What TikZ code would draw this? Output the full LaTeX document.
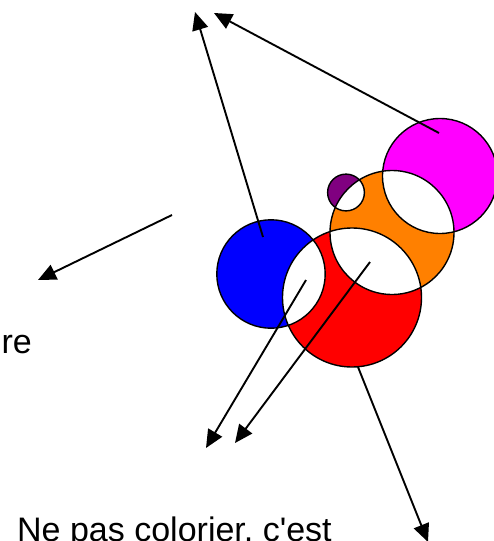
\documentclass[tikz,border=0pt]{standalone}
\usepackage{fontspec}
\setmainfont{Liberation Sans}
\usetikzlibrary{arrows.meta}
\definecolor{cblue}{RGB}{0,0,255}
\definecolor{cred}{RGB}{255,0,0}
\definecolor{corange}{RGB}{255,128,0}
\definecolor{cmagenta}{RGB}{255,0,255}
\definecolor{cpurple}{RGB}{128,0,128}
\tikzset{
  arr/.style={line width=1.9pt, -{Triangle[length=18pt,width=16pt]}},
  ring/.style={draw=black, line width=1.4pt},
  label/.style={font=\fontsize{34}{40}\selectfont, inner sep=0pt}
}
\begin{document}
\begin{tikzpicture}[x=1pt,y=-1pt]
\useasboundingbox (0,0) rectangle (493,541);
% circle centres
\coordinate (bc) at (271,274);
\coordinate (rc) at (352,297.5);
\coordinate (oc) at (392,232.5);
\coordinate (mc) at (440,176);
\coordinate (pc) at (346,192.5);
% fills
\fill[cblue] (bc) circle (54.2);
\fill[cred] (rc) circle (69.5);
\fill[corange] (oc) circle (62);
\fill[cmagenta] (mc) circle (57.5);
\fill[cpurple] (pc) circle (18.4);
% white intersections
\begin{scope}\clip (bc) circle (54.2); \fill[white] (rc) circle (69.5);\end{scope}
\begin{scope}\clip (rc) circle (69.5); \fill[white] (oc) circle (62);\end{scope}
\begin{scope}\clip (oc) circle (62); \fill[white] (mc) circle (57.5);\end{scope}
\begin{scope}\clip (oc) circle (62); \fill[white] (pc) circle (18.4);\end{scope}
% outlines
\draw[ring] (bc) circle (54.2);
\draw[ring] (rc) circle (69.5);
\draw[ring] (oc) circle (62);
\draw[ring] (mc) circle (57.5);
\draw[ring] (pc) circle (18.4);
% arrow ends
\coordinate (s1) at (263,237);
\coordinate (t1) at (195,12);
\coordinate (s2) at (439,133);
\coordinate (t2) at (214,13);
\coordinate (s3) at (172,215);
\coordinate (t3) at (38,280);
\coordinate (s4) at (306,280);
\coordinate (t4) at (206,448);
\coordinate (s5) at (370,262);
\coordinate (t5) at (235,443);
\coordinate (s6) at (358,367);
\coordinate (t6) at (428,542);
\draw[arr] (s1) -- (t1);
\draw[arr] (s2) -- (t2);
\draw[arr] (s3) -- (t3);
\draw[arr] (s4) -- (t4);
\draw[arr] (s5) -- (t5);
\draw[arr] (s6) -- (t6);
% texts
\node[label, anchor=base east] (re) at (32,353) {re};
\node[label, anchor=base west] (np) at (17,541) {Ne pas colorier, c\textquotesingle est};
\end{tikzpicture}
\end{document}
